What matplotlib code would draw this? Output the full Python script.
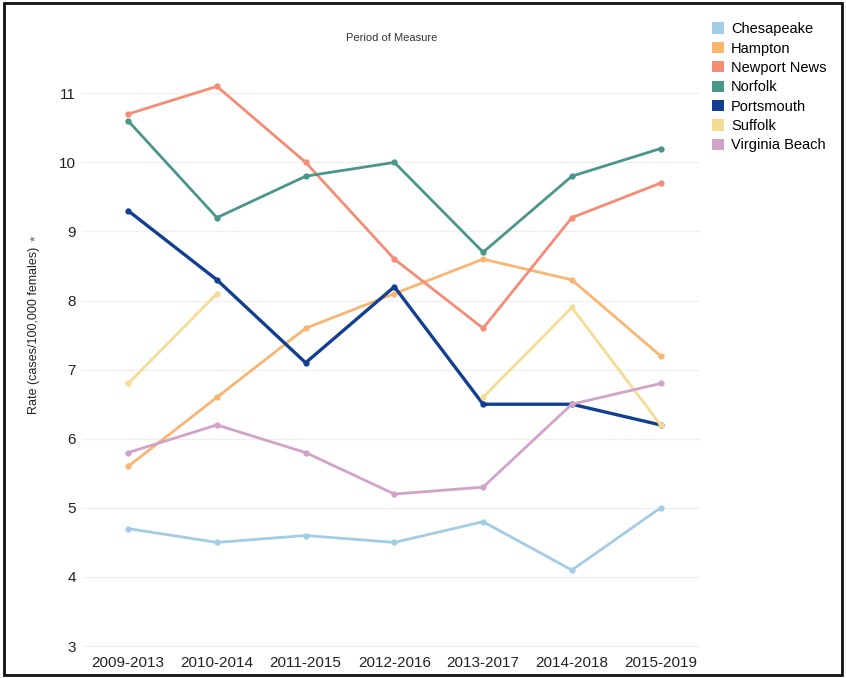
import numpy as np
import matplotlib.pyplot as plt
from matplotlib.patches import Patch, Rectangle

# ── data ─────────────────────────────────────────────────────────────────────
periods = ["2009-2013", "2010-2014", "2011-2015", "2012-2016",
           "2013-2017", "2014-2018", "2015-2019"]

chesapeake = [4.7, 4.5, 4.6, 4.5, 4.8, 4.1, 5.0]
hampton = [5.6, 6.6, 7.6, 8.1, 8.6, 8.3, 7.2]
newport_news = [10.7, 11.1, 10.0, 8.6, 7.6, 9.2, 9.7]
norfolk = [10.6, 9.2, 9.8, 10.0, 8.7, 9.8, 10.2]
portsmouth = [9.3, 8.3, 7.1, 8.2, 6.5, 6.5, 6.2]
suffolk = [6.8, 8.1, np.nan, np.nan, 6.6, 7.9, 6.2]
virginia_beach = [5.8, 6.2, 5.8, 5.2, 5.3, 6.5, 6.8]

series = [
    ("Chesapeake", chesapeake, "#a3cde6", 2.0),
    ("Hampton", hampton, "#f9b672", 2.0),
    ("Newport News", newport_news, "#f48c76", 2.0),
    ("Norfolk", norfolk, "#4a968a", 2.0),
    ("Portsmouth", portsmouth, "#133f92", 2.4),
    ("Suffolk", suffolk, "#f4dc94", 2.0),
    ("Virginia Beach", virginia_beach, "#d2a3c9", 2.0),
]

plt.rcParams["font.family"] = ["Liberation Sans", "DejaVu Sans"]

fig = plt.figure(figsize=(8.46, 6.78), dpi=100)
ax = fig.add_axes([0.097, 0.041, 0.731, 0.907])

x = np.arange(len(periods))
for name, vals, color, lw in series:
    ax.plot(x, vals, color=color, linewidth=lw, marker="o", markersize=3.5,
            label=name)

ax.set_xlim(-0.52, 6.45)
ax.set_ylim(2.94, 11.84)
ax.set_yticks(range(3, 12))
ax.set_xticks(x)
ax.set_xticklabels(periods)
ax.tick_params(axis="both", length=0, labelsize=11, colors="#222222")
ax.tick_params(axis="y", pad=4.5)
ax.tick_params(axis="x", pad=4)
ax.grid(axis="y", color="#f0f0f0", linewidth=1)
ax.set_axisbelow(True)
for s in ax.spines.values():
    s.set_visible(False)

# y label + small grey star
fig.text(34 / 846, 1 - 330 / 678, "Rate (cases/100,000 females)", rotation=90,
         fontsize=9, color="#222222", ha="center", va="center")
fig.text(33 / 846, 1 - 238 / 678, "\u2605", rotation=90, fontsize=6,
         color="#888888", family="DejaVu Sans", ha="center", va="center")

ax.text(0.5, 0.995, "Period of Measure", transform=ax.transAxes,
        fontsize=8, color="#333333", ha="center", va="center")

handles = [Patch(facecolor=c, edgecolor="none", label=n)
           for n, _, c, _ in series]
fig.legend(handles=handles, loc="upper left", bbox_to_anchor=(0.835, 0.976),
           frameon=False, fontsize=10.5, handlelength=0.8, handleheight=0.8,
           handletextpad=0.5, labelspacing=0.37, borderaxespad=0)

fig.patches.append(Rectangle((0.005, 0.005), 0.99, 0.99, transform=fig.transFigure,
                             fill=False, edgecolor="#111111", linewidth=2))

fig.savefig("out.png", dpi=100)
